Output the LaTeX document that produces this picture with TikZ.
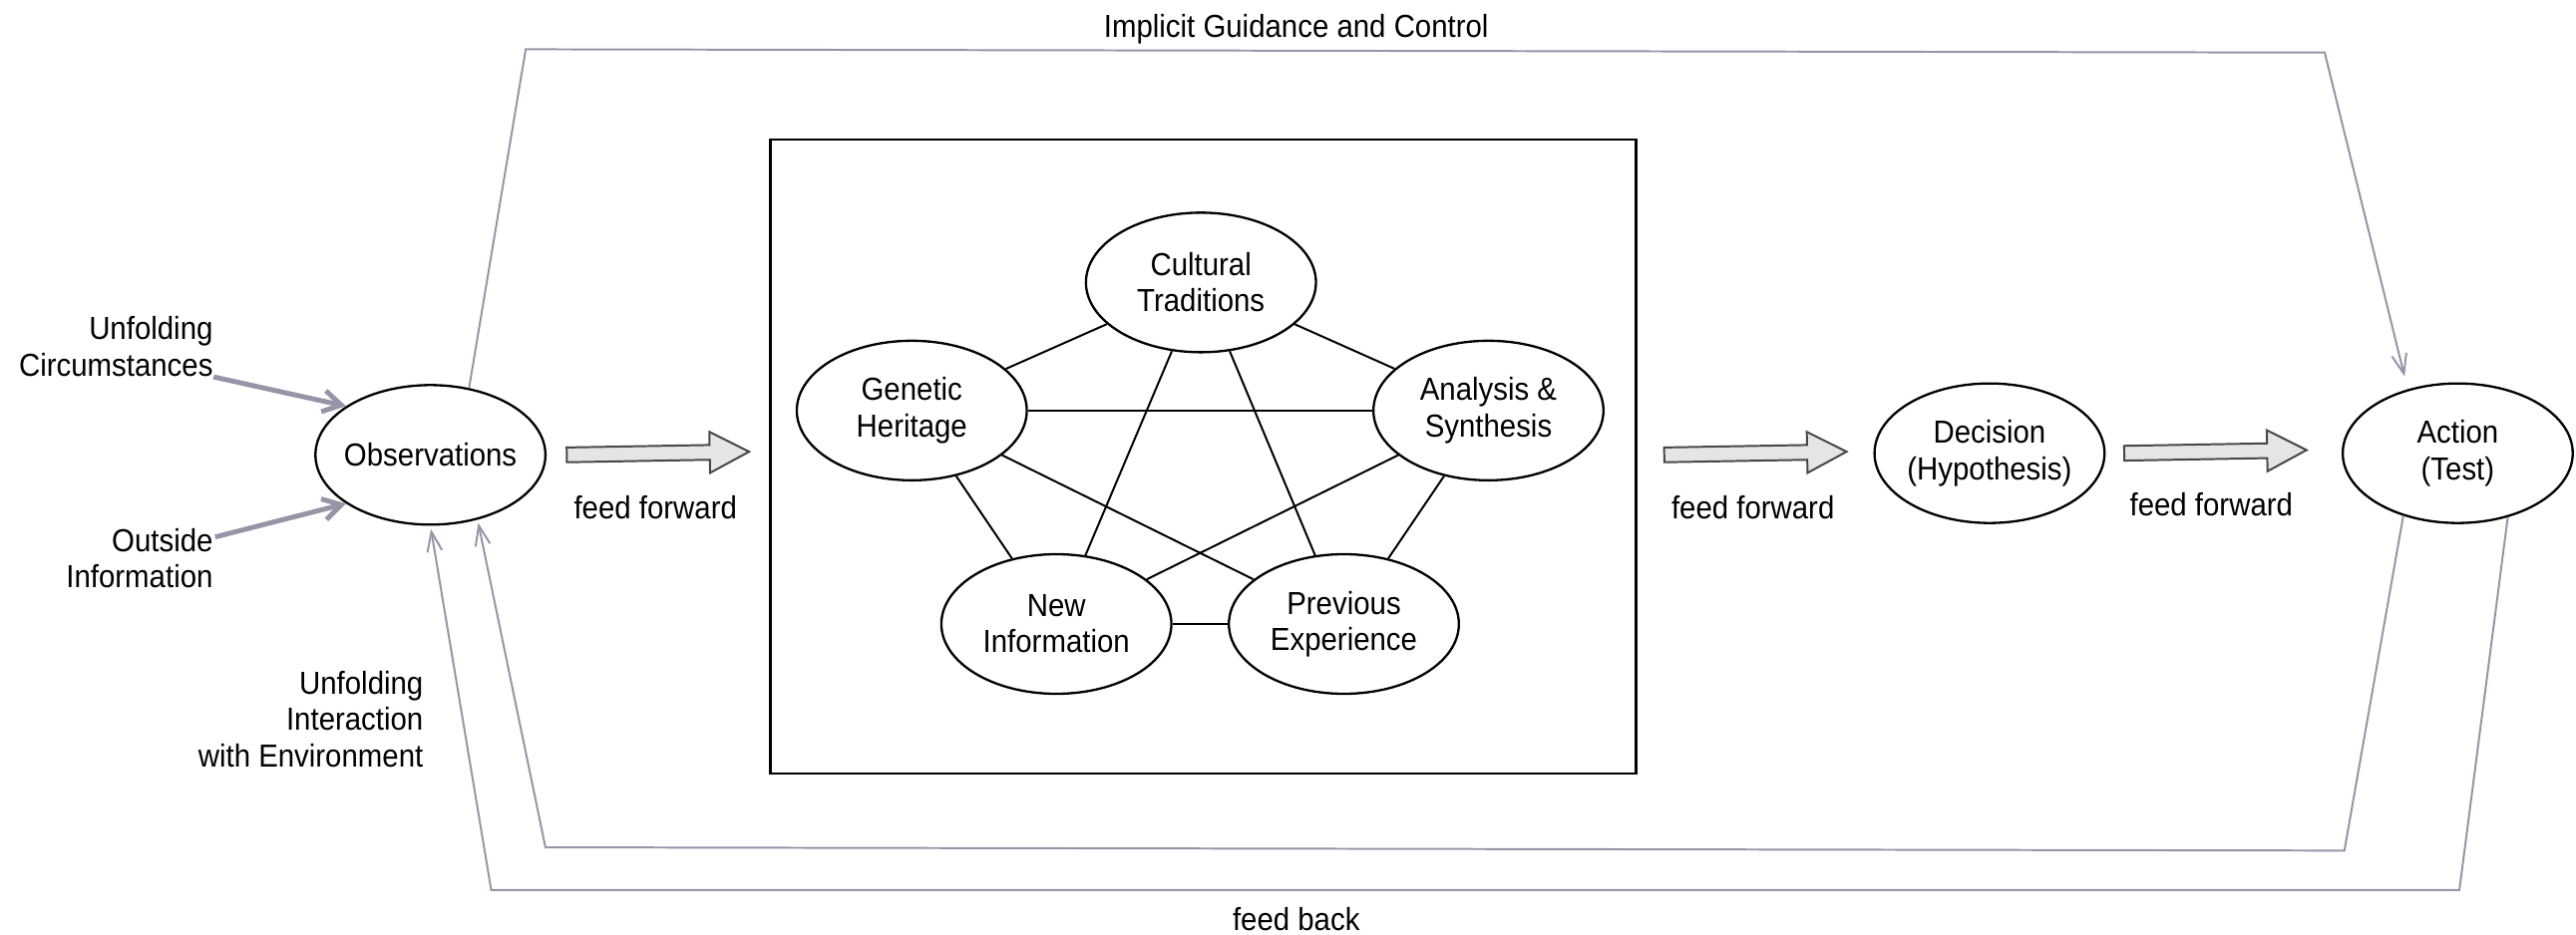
\documentclass[tikz,border=0pt]{standalone}
\usepackage{fontspec}
\setmainfont{Liberation Sans}[FakeStretch=0.92]
\usetikzlibrary{shapes.geometric,arrows.meta}
\definecolor{linkgray}{RGB}{150,148,166}
\begin{document}
\begin{tikzpicture}[x=0.5pt,y=-0.5pt,
  every node/.style={font=\fontsize{9.7}{11}\selectfont, inner sep=0pt},
  oval/.style={ellipse, draw=black, line width=0.7pt, inner sep=-15pt, minimum width=70pt, minimum height=42.5pt, align=center},
  lbl/.style={align=center},
  rlbl/.style={align=right, anchor=east},
  conn/.style={draw=linkgray, line width=0.6pt, line join=miter},
  thinarr/.style={conn, -{Straight Barb[length=6pt,width=4.5pt]}},
  thickarr/.style={draw=linkgray, line width=1.5pt, -{Straight Barb[length=5.5pt,width=6.5pt]}},
  link/.style={draw=black, line width=0.6pt},
  blk/.style={fill=black!10, draw=black!72, line width=0.6pt, line join=miter},
  blockarr/.pic={\path[blk] (0,-4.5) -- (87,-4.5) -- (87,-12.5) -- (111,0) -- (87,12.5) -- (87,4.5) -- (0,4.5) -- cycle;}
]
\useasboundingbox (0,0) rectangle (1568,569);

% frame
\node[draw=black, line width=0.8pt, minimum width=263.5pt, minimum height=193pt] (frame) at (732.5,278) {};

% main nodes
\node[oval] (obs) at (262,277) {Observations};
\node[oval] (dec) at (1211,276) {Decision\\(Hypothesis)};
\node[oval] (act) at (1496,276) {Action\\(Test)};

\node[oval] (ct) at (731,172) {Cultural\\Traditions};
\node[oval] (gh) at (555,250) {Genetic\\Heritage};
\node[oval] (as) at (906,250) {Analysis \&\\Synthesis};
\node[oval] (ni) at (643,380) {New\\Information};
\node[oval] (pe) at (818,380) {Previous\\Experience};

% pentagon links
\draw[link] (ct) -- (gh);
\draw[link] (ct) -- (as);
\draw[link] (gh) -- (as);
\draw[link] (ct) -- (ni);
\draw[link] (ct) -- (pe);
\draw[link] (gh) -- (ni);
\draw[link] (gh) -- (pe);
\draw[link] (as) -- (ni);
\draw[link] (as) -- (pe);
\draw[link] (ni) -- (pe);

% labels
\node[lbl] (igc) at (789,17.5) {Implicit Guidance and Control};
\node[rlbl] (uc) at (130,211) {Unfolding\\Circumstances};
\node[rlbl] (oi) at (130,340) {Outside\\Information};
\node[rlbl] (ui) at (258,438) {Unfolding\\Interaction\\with Environment};
\node[lbl] (ff1) at (399,309) {feed forward};
\node[lbl] (ff2) at (1067,309) {feed forward};
\node[lbl] (ff3) at (1346,307) {feed forward};
\node[lbl] (fb) at (789,560) {feed back};

% block arrows
\pic[rotate=1] at (345,277) {blockarr};
\pic[rotate=1] at (1013,277) {blockarr};
\pic[rotate=1] at (1293,276) {blockarr};

% input arrows
\coordinate (oistart) at (131,327);
\draw[thickarr] (uc.south east) -- (obs.150);
\draw[thickarr] (oistart) -- (obs.210);

% guidance and feedback
\coordinate (g1) at (320,30);
\coordinate (g2) at (1415,32);
\draw[thinarr, shorten >=4pt] (obs.60) -- (g1) -- (g2) -- (act.128);

\coordinate (f1) at (1427,518);
\coordinate (f2) at (332,516);
\draw[thinarr, shorten >=1pt] (act.229) -- (f1) -- (f2) -- (obs.306);

\coordinate (h1) at (1497,542);
\coordinate (h2) at (299,542);
\draw[thinarr, shorten >=1pt] (act.308) -- (h1) -- (h2) -- (obs.south);
\end{tikzpicture}
\end{document}
